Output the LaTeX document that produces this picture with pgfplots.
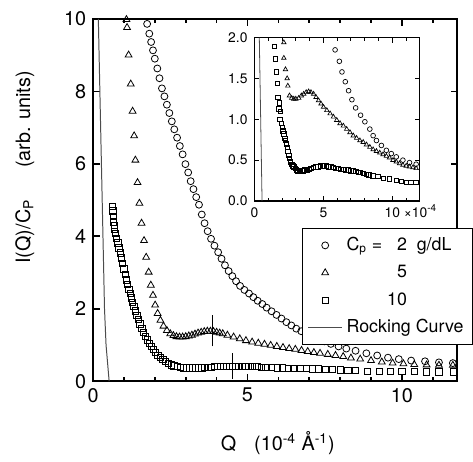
\documentclass[border=0pt]{standalone}
\usepackage{fontspec}
\setmainfont{TeX Gyre Heros}
\setsansfont{TeX Gyre Heros}
\usepackage{pgfplots}
\pgfplotsset{compat=1.18}
\pgfplotsset{markleg/.style={legend image code/.code={%
  \draw[mark repeat=2, mark phase=2, ##1] plot coordinates {(0cm,0cm)(0.3cm,0cm)(0.6cm,0cm)};}}}

\begin{document}
\begin{tikzpicture}
\path (-47pt,-36.5pt) rectangle (189.5pt,192.5pt);
\begin{axis}[
  name=main,
  at={(0,0)}, anchor=south west,
  scale only axis, width=184pt, height=183pt,
  xmin=0, xmax=11.8, ymin=0, ymax=10,
  axis line style={line width=1pt},
  tick align=inside,
  xtick={0,5,10}, minor xtick={1,2,3,4,6,7,8,9,11},
  ytick={0,2,...,10},
  major tick length=3.5pt, minor tick length=2pt,
  every tick/.style={black, line width=0.8pt},
  ticklabel style={font=\fontsize{10}{11}\selectfont},
  /pgf/number format/assume math mode=true,
  xlabel={Q\hspace{0.9em}(10\textsuperscript{-4} Å\textsuperscript{-1})},
  ylabel={I(Q)/C\textsubscript{P}\hspace{1.6em}(arb. units)},
  label style={font=\fontsize{10}{11}\selectfont},
  xlabel style={at={(axis description cs:0.507,-0.172)}, anchor=center},
  ylabel style={at={(axis description cs:-0.1875,0.59)}, anchor=center},
  legend style={at={(axis description cs:0.574,0.4235)}, anchor=north west,
    draw=black, line width=0.6pt, font=\fontsize{9}{10}\selectfont,
    cells={anchor=west}, inner sep=2.5pt, row sep=1.6pt},
  mark options={solid, line width=0.4pt},
]
\addplot[only marks, mark=o, mark size=1.75pt, markleg] coordinates {
(1.75,9.86)(1.82,9.59)(1.88,9.36)(1.94,9.13)(2.0,8.9)(2.08,8.63)(2.15,8.36)(2.23,8.08)
(2.31,7.86)(2.39,7.63)(2.47,7.4)(2.55,7.17)(2.63,6.95)(2.72,6.72)(2.81,6.49)(2.9,6.26)
(2.99,5.99)(3.08,5.76)(3.16,5.52)(3.25,5.3)(3.34,5.08)(3.43,4.87)(3.52,4.6)(3.61,4.36)
(3.71,4.14)(3.82,3.93)(3.93,3.74)(4.05,3.56)(4.16,3.38)(4.27,3.2)(4.39,3.04)(4.51,2.9)
(4.63,2.76)(4.76,2.63)(4.9,2.52)(5.05,2.42)(5.19,2.32)(5.33,2.22)(5.48,2.13)(5.62,2.03)
(5.78,1.93)(5.94,1.83)(6.1,1.73)(6.26,1.63)(6.42,1.54)(6.58,1.45)(6.74,1.38)(6.9,1.31)
(7.06,1.24)(7.28,1.16)(7.49,1.1)(7.7,1.03)(7.95,0.96)(8.2,0.9)(8.5,0.84)(8.85,0.77)
(9.2,0.71)(9.55,0.65)(9.9,0.61)(10.3,0.57)(10.75,0.55)(11.2,0.52)(11.65,0.5)
};
\addlegendentry{C\textsubscript{p} =\ \makebox[1.1em][r]{2}\ \ g/dL}
\addplot[only marks, mark=triangle, mark size=2pt, markleg] coordinates {
(1.08,9.98)(1.1,9.76)(1.15,9.0)(1.22,8.2)(1.28,7.45)(1.33,6.77)(1.37,6.1)(1.44,5.48)
(1.5,4.91)(1.57,4.36)(1.65,3.88)(1.72,3.42)(1.8,3.01)(1.87,2.65)(1.94,2.37)(2.01,2.1)
(2.09,1.87)(2.18,1.68)(2.28,1.52)(2.39,1.4)(2.5,1.31)(2.6,1.26)(2.7,1.23)(2.8,1.22)
(2.9,1.22)(3.0,1.23)(3.1,1.25)(3.2,1.27)(3.3,1.3)(3.4,1.33)(3.5,1.35)(3.6,1.37)
(3.7,1.38)(3.8,1.38)(3.9,1.37)(4.0,1.35)(4.1,1.33)(4.2,1.31)(4.35,1.27)(4.55,1.22)
(4.75,1.17)(4.95,1.12)(5.15,1.08)(5.35,1.05)(5.55,1.02)(5.75,0.99)(5.95,0.96)(6.15,0.93)
(6.35,0.9)(6.55,0.88)(6.75,0.85)(6.95,0.82)(7.15,0.79)(7.35,0.77)(7.6,0.74)(7.85,0.71)
(8.1,0.68)(8.35,0.64)(8.65,0.61)(9.0,0.57)(9.35,0.53)(9.7,0.5)(10.05,0.48)(10.4,0.46)
(10.8,0.45)(11.2,0.44)(11.65,0.44)
};
\addlegendentry{\phantom{C\textsubscript{p} =\ }\makebox[1.1em][r]{5}}
\addplot[only marks, mark=square, mark size=1.6pt, markleg] coordinates {
(0.62,4.82)(0.64,4.7)(0.65,4.55)(0.66,4.4)(0.68,4.3)(0.7,4.2)(0.73,4.08)(0.76,3.95)
(0.8,3.82)(0.84,3.68)(0.88,3.54)(0.92,3.4)(0.96,3.25)(1.0,3.1)(1.04,2.95)(1.08,2.8)
(1.12,2.67)(1.16,2.54)(1.2,2.42)(1.24,2.3)(1.28,2.18)(1.32,2.06)(1.37,1.94)(1.42,1.82)
(1.47,1.7)(1.52,1.58)(1.58,1.46)(1.64,1.35)(1.70,1.24)(1.76,1.14)(1.82,1.05)(1.88,0.96)
(1.95,0.88)(2.02,0.8)(2.1,0.72)(2.18,0.66)(2.26,0.6)(2.35,0.54)(2.44,0.49)(2.53,0.45)
(2.62,0.42)(2.72,0.4)(2.82,0.38)(2.92,0.37)(3.02,0.37)(3.12,0.37)(3.22,0.37)(3.32,0.37)
(3.42,0.37)(3.52,0.37)(3.62,0.38)(3.72,0.38)(3.82,0.39)(3.92,0.4)(4.02,0.4)(4.12,0.41)
(4.22,0.41)(4.32,0.41)(4.42,0.41)(4.52,0.41)(4.62,0.41)(4.72,0.41)(4.82,0.41)(4.92,0.41)
(5.02,0.41)(5.15,0.4)(5.3,0.4)(5.45,0.39)(5.6,0.38)(5.78,0.38)(5.96,0.37)(6.14,0.37)
(6.32,0.36)(6.5,0.36)(6.7,0.35)(6.9,0.35)(7.1,0.34)(7.3,0.34)(7.52,0.33)(7.75,0.32)
(8.0,0.31)(8.25,0.3)(8.5,0.29)(8.88,0.28)(9.27,0.28)(9.62,0.27)(10.0,0.27)(10.4,0.27)
(10.8,0.26)(11.2,0.26)(11.67,0.26)
};
\addlegendentry{\phantom{C\textsubscript{p} =\ }\makebox[1.1em][r]{10}}
\addplot[black!70, line width=0.5pt] coordinates {
(0.17,10)(0.22,8)(0.27,6)(0.32,4)(0.37,2)(0.42,1)(0.52,0)
};
\addlegendentry{Rocking Curve}
\addplot[black, line width=0.5pt, forget plot] coordinates {(3.88,0.96)(3.88,1.83)};
\addplot[black, line width=0.5pt, forget plot] coordinates {(4.52,0.06)(4.52,0.78)};
\end{axis}

\begin{axis}[
  name=inset,
  at={(81.5pt,91pt)}, anchor=south west,
  scale only axis, width=83.5pt, height=82.5pt,
  xmin=0, xmax=12, ymin=0, ymax=2,
  axis line style={line width=0.6pt},
  tick align=inside,
  xtick={0,5,10},
  xticklabel={\pgfmathprintnumber{\tick}\ifdim\tick pt>9pt\rlap{\smash{ ×10\textsuperscript{-4}}}\fi},
  minor xtick={1,2,3,4,6,7,8,9,11},
  ytick={0,0.5,1,1.5,2},
  yticklabel={\pgfmathprintnumber[fixed, fixed zerofill, precision=1]{\tick}},
  major tick length=2.5pt, minor tick length=1.5pt,
  every tick/.style={black, line width=0.5pt},
  ticklabel style={font=\fontsize{7}{8}\selectfont},
  /pgf/number format/assume math mode=true,
  mark options={solid, line width=0.35pt},
]
\addplot[only marks, mark=o, mark size=1.2pt] coordinates {
(5.85,1.85)(6.16,1.71)(6.35,1.58)(6.59,1.46)(6.83,1.35)(7.07,1.24)(7.34,1.14)(7.70,1.05)
(8.01,0.97)(8.37,0.88)(8.61,0.80)(8.85,0.74)(9.21,0.68)(9.57,0.62)(9.93,0.58)(10.29,0.54)
(10.77,0.50)(11.25,0.47)(11.73,0.45)
};
\addplot[only marks, mark=triangle, mark size=1.3pt] coordinates {
(2.13,1.94)(2.13,1.75)(2.25,1.61)(2.37,1.50)(2.42,1.41)(2.54,1.29)(2.7,1.26)(2.85,1.25)
(3.0,1.25)(3.21,1.26)(3.4,1.29)(3.57,1.31)(3.75,1.33)(3.93,1.34)(4.1,1.33)(4.29,1.31)
(4.47,1.27)(4.65,1.23)(4.83,1.19)(5.01,1.15)(5.25,1.11)(5.49,1.07)(5.73,1.03)(5.97,0.99)
(6.21,0.95)(6.45,0.92)(6.69,0.88)(6.93,0.84)(7.17,0.80)(7.41,0.77)(7.65,0.74)(7.89,0.72)
(8.13,0.69)(8.37,0.66)(8.61,0.63)(8.85,0.61)(9.09,0.59)(9.33,0.57)(9.57,0.55)(9.8,0.53)
(10.05,0.50)(10.29,0.48)(10.53,0.46)(10.77,0.44)(11.01,0.43)(11.25,0.42)(11.5,0.41)(11.73,0.40)
};
\addplot[only marks, mark=square, mark size=1.1pt] coordinates {
(1.46,1.89)(1.51,1.74)(1.61,1.58)(1.65,1.44)(1.70,1.27)(1.77,1.13)(1.85,1.0)(1.8,1.2)
(1.9,1.1)(1.95,0.95)(2.0,0.9)(2.06,0.86)(2.13,0.82)(2.2,0.77)(2.25,0.74)(2.31,0.7)
(2.37,0.66)(2.43,0.61)(2.49,0.56)(2.55,0.52)(2.61,0.48)(2.7,0.45)(2.78,0.43)(2.85,0.42)
(2.95,0.4)(3.05,0.38)(3.15,0.37)(3.25,0.36)(3.33,0.36)(3.45,0.37)(3.55,0.37)(3.65,0.38)
(3.8,0.38)(3.95,0.39)(4.1,0.4)(4.29,0.41)(4.45,0.42)(4.6,0.42)(4.8,0.43)(5.0,0.43)
(5.2,0.43)(5.36,0.42)(5.55,0.42)(5.73,0.41)(5.9,0.4)(6.1,0.4)(6.27,0.39)(6.45,0.39)
(6.62,0.38)(6.8,0.38)(7.0,0.37)(7.17,0.37)(7.35,0.36)(7.52,0.35)(7.7,0.35)(7.89,0.34)
(8.1,0.33)(8.3,0.32)(8.6,0.31)(8.95,0.3)(9.33,0.28)(9.8,0.27)(10.29,0.25)(10.65,0.24)
(11.0,0.23)(11.35,0.23)(11.7,0.23)
};
\addplot[black!70, line width=0.4pt] coordinates {(0.35,2)(0.55,0)};
\end{axis}
\end{tikzpicture}
\end{document}
